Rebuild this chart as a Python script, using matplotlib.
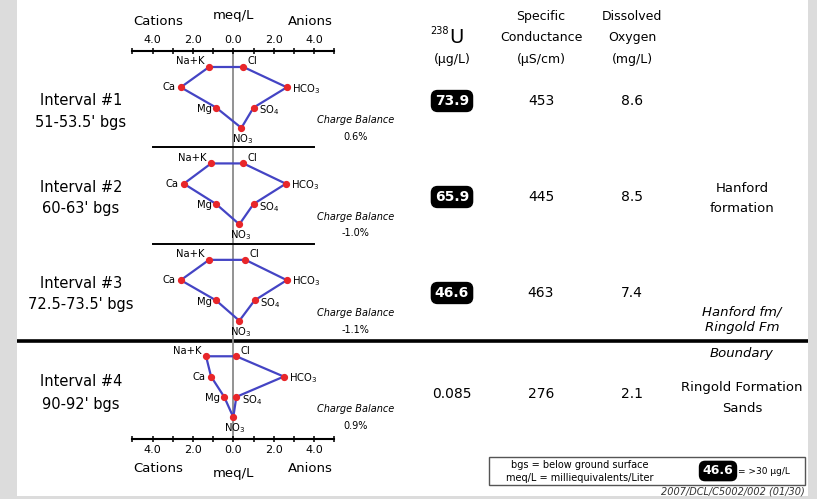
import matplotlib
matplotlib.use("Agg")
import matplotlib.pyplot as plt
from matplotlib.patches import Rectangle
from matplotlib.ticker import MultipleLocator, FuncFormatter

# ---- data -------------------------------------------------------------
intervals = ["Interval #1", "Interval #2", "Interval #3", "Interval #4"]
depths = ["51-53.5' bgs", "60-63' bgs", "72.5-73.5' bgs", "90-92' bgs"]

# major ions, meq/L
na_k = [1.2, 1.1, 1.2, 1.35]
ca = [2.6, 2.45, 2.6, 1.1]
mg = [0.85, 0.85, 0.85, 0.45]
cl = [0.5, 0.5, 0.6, 0.15]
hco3 = [2.65, 2.6, 2.65, 2.5]
so4 = [1.0, 1.0, 1.05, 0.15]
no3 = [0.4, 0.3, 0.3, 0.0]
charge_balance = ["0.6%", "-1.0%", "-1.1%", "0.9%"]

uranium = ["73.9", "65.9", "46.6", "0.085"]          # ug/L
spec_cond = ["453", "445", "463", "276"]             # uS/cm
diss_oxygen = ["8.6", "8.5", "7.4", "2.1"]           # mg/L
u_threshold = 30.0

# ---- figure -----------------------------------------------------------
W, H, DPI = 817, 499, 100
fig = plt.figure(figsize=(W / DPI, H / DPI), dpi=DPI, facecolor="#dcdcdc")
FONT = "DejaVu Sans"
plt.rcParams["font.family"] = FONT

# page coordinates in pixels (y grows downward)
bg = fig.add_axes([0, 0, 1, 1])
bg.set_xlim(0, W)
bg.set_ylim(H, 0)
bg.axis("off")
bg.add_patch(Rectangle((17, 0), 791, 496, fc="white", ec="none", zorder=0))

# stiff-diagram axes: x in meq/L (cations negative), y in row units
PX = 20.2                      # pixels per meq/L
X0 = 233.3                     # pixel of 0 meq/L
TOP, BOT = 51, 439             # pixel rows of the two scale bars
ROW0, ROWH = 67.0, 20.3        # first row pixel, row spacing
BLOCK = 4.75                   # rows per interval


def ypix_to_row(yp):
    return (yp - ROW0) / ROWH


ax = fig.add_axes([(X0 - 5 * PX) / W, 1 - BOT / H, 10 * PX / W, (BOT - TOP) / H])
ax.set_xlim(-5, 5)
ax.set_ylim(ypix_to_row(BOT), ypix_to_row(TOP))
ax.patch.set_visible(False)
for s in ("left", "right"):
    ax.spines[s].set_visible(False)
for s in ("top", "bottom"):
    ax.spines[s].set_linewidth(1.5)
ax.xaxis.set_major_locator(MultipleLocator(2))
ax.xaxis.set_minor_locator(MultipleLocator(1))
ax.xaxis.set_major_formatter(FuncFormatter(lambda v, p: f"{abs(v):.1f}"))
ax.tick_params(axis="x", which="both", top=True, bottom=True, labeltop=True,
               labelbottom=True, direction="inout", length=5, width=1.1,
               labelsize=8, pad=1.5)
ax.set_yticks([])

# central zero line
ax.axvline(0, color="#8a8a8a", lw=1.3, zorder=1)

lab_kw = dict(fontsize=7.2, textcoords="offset points", va="center")
for i in range(4):
    b = i * BLOCK
    xs = [-na_k[i], cl[i], hco3[i], so4[i], no3[i], -mg[i], -ca[i], -na_k[i]]
    ys = [b, b, b + 1, b + 2, b + 3, b + 2, b + 1, b]
    ax.plot(xs, ys, color="#4444c4", lw=1.6, zorder=2, clip_on=False)
    ax.plot(xs[:-1], ys[:-1], "o", color="#e8262a", ms=4.2, zorder=3,
            clip_on=False)
    ax.annotate("Na+K", (-na_k[i], b), xytext=(-3, 4), ha="right", **lab_kw)
    ax.annotate("Cl", (cl[i], b), xytext=(3, 4), ha="left", **lab_kw)
    ax.annotate("Ca", (-ca[i], b + 1), xytext=(-4, 0), ha="right", **lab_kw)
    ax.annotate("HCO$_3$", (hco3[i], b + 1), xytext=(4, -1), ha="left", **lab_kw)
    ax.annotate("Mg", (-mg[i], b + 2), xytext=(-3, -1), ha="right", **lab_kw)
    ax.annotate("SO$_4$", (so4[i], b + 2), xytext=(4, -2), ha="left", **lab_kw)
    ax.annotate("NO$_3$", (no3[i], b + 3), xytext=(1, -8), ha="center", **lab_kw)
    ax.text(6.05, b + 2.62, "Charge Balance", fontsize=7, ha="center",
            va="center", style="italic", clip_on=False)
    ax.text(6.05, b + 3.45, charge_balance[i], fontsize=7, ha="center",
            va="center", clip_on=False)
    if i in (1, 2):
        ax.plot([-4, 4], [b - 0.8, b - 0.8], color="black", lw=1.4,
                clip_on=False)

# Hanford / Ringold contact across the page
bg.plot([17, 808], [341, 341], color="black", lw=2.6, solid_capstyle="butt")

# scale titles
for yc, ym in ((21, 15), (468, 474)):
    bg.text(158, yc, "Cations", fontsize=9.5, ha="center", va="center")
    bg.text(310, yc, "Anions", fontsize=9.5, ha="center", va="center")
    bg.text(233, ym, "meq/L", fontsize=9.5, ha="center", va="center")

# interval names
name_y = [(100, 122), (187, 209), (283, 305), (382, 404)]
for i in range(4):
    bg.text(81, name_y[i][0], intervals[i], fontsize=10.5, ha="center", va="center")
    bg.text(81, name_y[i][1], depths[i], fontsize=10.5, ha="center", va="center")

# column headers
XU, XC, XO = 452, 541, 632
bg.text(XU - 3, 31, "238", fontsize=7, ha="right", va="center")
bg.text(XU - 3, 37, "U", fontsize=14, ha="left", va="center")
bg.text(XU, 59, "(\u00b5g/L)", fontsize=9, ha="center", va="center")
bg.text(XC, 16, "Specific", fontsize=9, ha="center", va="center")
bg.text(XC, 37, "Conductance", fontsize=9, ha="center", va="center")
bg.text(XC, 59, "(\u00b5S/cm)", fontsize=9, ha="center", va="center")
bg.text(XO, 16, "Dissolved", fontsize=9, ha="center", va="center")
bg.text(XO, 37, "Oxygen", fontsize=9, ha="center", va="center")
bg.text(XO, 59, "(mg/L)", fontsize=9, ha="center", va="center")

box_kw = dict(boxstyle="round,pad=0.25,rounding_size=0.45", fc="black", ec="black")
value_y = [101, 197, 293, 394]
for i in range(4):
    y = value_y[i]
    if float(uranium[i]) > u_threshold:
        bg.text(XU, y, uranium[i], fontsize=10, ha="center", va="center",
                color="white", weight="bold", bbox=box_kw)
    else:
        bg.text(XU, y, uranium[i], fontsize=10, ha="center", va="center")
    bg.text(XC, y, spec_cond[i], fontsize=10, ha="center", va="center")
    bg.text(XO, y, diss_oxygen[i], fontsize=10, ha="center", va="center")

# formation column
XF = 742
bg.text(XF, 189, "Hanford", fontsize=9.5, ha="center", va="center")
bg.text(XF, 209, "formation", fontsize=9.5, ha="center", va="center")
bg.text(XF, 312, "Hanford fm/", fontsize=9.5, ha="center", va="center", style="italic")
bg.text(XF, 327, "Ringold Fm", fontsize=9.5, ha="center", va="center", style="italic")
bg.text(XF, 353, "Boundary", fontsize=9.5, ha="center", va="center", style="italic")
bg.text(XF, 388, "Ringold Formation", fontsize=9.5, ha="center", va="center")
bg.text(XF, 408, "Sands", fontsize=9.5, ha="center", va="center")

# key
bg.add_patch(Rectangle((489, 457), 316, 28, fc="white", ec="#555555", lw=1.0))
bg.text(580, 465, "bgs = below ground surface", fontsize=7, ha="center", va="center")
bg.text(580, 478, "meq/L = milliequivalents/Liter", fontsize=7, ha="center", va="center")
bg.text(718, 471, "46.6", fontsize=9, ha="center", va="center", color="white",
        weight="bold", bbox=box_kw)
bg.text(738, 471, "= >30 \u00b5g/L", fontsize=6.5, ha="left", va="center")
bg.text(805, 491, "2007/DCL/C5002/002 (01/30)", fontsize=7, ha="right",
        va="center", style="italic", color="#333333")

fig.savefig("out.png", dpi=DPI, facecolor=fig.get_facecolor())
